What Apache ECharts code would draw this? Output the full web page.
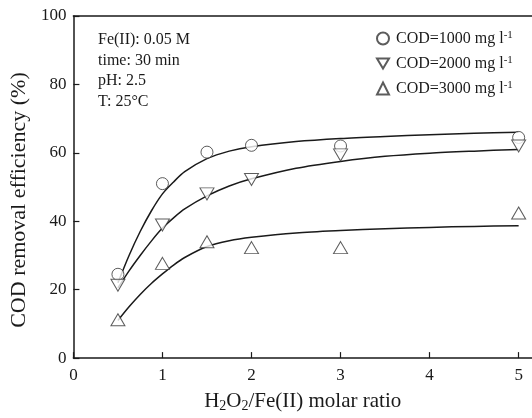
<!DOCTYPE html>
<html>
<head>
<meta charset="utf-8">
<script src="https://cdn.jsdelivr.net/npm/echarts@6/dist/echarts.min.js"></script>
<style>
  html, body { margin: 0; padding: 0; background: #fff; }
  #chart { width: 532px; height: 418px; }
</style>
</head>
<body>
<div id="chart"></div>
<script>
// Measured points: H2O2/Fe(II) molar ratio vs COD removal efficiency (%)
const ratio = [0.5, 1, 1.5, 2, 3, 5];
const cod1000 = [24.5, 51, 60.2, 62.2, 62, 64.5];
const cod2000 = [21.3, 38.9, 48, 52.2, 59.4, 62];
const cod3000 = [11.2, 27.7, 34, 32.3, 32.3, 42.4];

// Fitted trend curves
const fitX = [0.5, 0.625, 0.75, 0.875, 1, 1.125, 1.25, 1.5, 1.75, 2, 2.5, 3, 3.5, 4, 4.5, 5];
const fit1000 = [22, 30, 37, 43, 48, 51.5, 54.5, 58.3, 60.5, 61.8, 63.3, 64.2, 64.8, 65.3, 65.7, 66];
const fit2000 = [20.5, 25.5, 30, 34.2, 38, 41, 43.6, 47.4, 50.3, 52.4, 55.5, 57.5, 59, 59.9, 60.5, 61];
const fit3000 = [11, 15, 18.6, 21.8, 24.6, 27.2, 29.4, 32.6, 34.3, 35.3, 36.6, 37.3, 37.8, 38.2, 38.5, 38.7];

const seriesNames = ['COD=1000', 'COD=2000', 'COD=3000'];
const conditions = ['Fe(II): 0.05 M', 'time: 30 min', 'pH: 2.5', 'T: 25°C'];
const yTicks = [0, 20, 40, 60, 80, 100];

const FONT = 'Liberation Serif';
const INK = '#1a1a1a';
const downTri = 'path://M0,0 L12,0 L6,10 Z';

const pairs = (xs, ys) => xs.map((x, i) => [x, ys[i]]);

const chart = echarts.init(document.getElementById('chart'), null, { renderer: 'canvas' });

const markerStyle = { color: '#fff', borderColor: '#333', borderWidth: 1 };
const lineStyle = { color: INK, width: 1.5 };

chart.setOption({
  animation: false,
  backgroundColor: '#fff',
  textStyle: { fontFamily: FONT, color: INK },
  grid: { left: 73, right: 0, top: 16, bottom: 55 },
  legend: {
    orient: 'vertical',
    left: 371,
    top: 25,
    itemWidth: 12,
    itemHeight: 12,
    itemGap: 8,
    data: seriesNames,
    formatter: name => '{t|' + name + ' mg l}{s|-1}',
    textStyle: {
      fontFamily: FONT,
      color: INK,
      padding: [0, 0, 0, 2],
      rich: {
        t: { fontFamily: FONT, fontSize: 16, color: INK, lineHeight: 17 },
        s: { fontFamily: FONT, fontSize: 11, color: INK, verticalAlign: 'top', lineHeight: 17, padding: [0, 0, 6, 0] }
      }
    }
  },
  xAxis: [{
    type: 'value',
    min: 0,
    max: 5.15,
    interval: 1,
    name: '{n|H}{s|2}{n|O}{s|2}{n|/Fe(II) molar ratio}',
    nameLocation: 'middle',
    nameGap: 31,
    nameTextStyle: {
      rich: {
        n: { fontFamily: FONT, fontSize: 21, color: INK, lineHeight: 22 },
        s: { fontFamily: FONT, fontSize: 14, color: INK, lineHeight: 22, padding: [10, 0, 0, 0] }
      }
    },
    axisLine: { show: true, lineStyle: { color: INK, width: 1.5 } },
    axisTick: { inside: true, length: 6, lineStyle: { color: INK, width: 1.2 } },
    axisLabel: {
      fontFamily: FONT, fontSize: 17, color: INK, margin: 9,
      showMaxLabel: false,
      formatter: v => (Number.isInteger(v) ? String(v) : '')
    },
    splitLine: { show: false }
  }, {
    type: 'value',
    position: 'top',
    min: 0,
    max: 5.15,
    axisLine: { show: true, onZero: false, lineStyle: { color: INK, width: 1.5 } },
    axisTick: { show: false },
    axisLabel: { show: false },
    splitLine: { show: false }
  }],
  yAxis: {
    type: 'value',
    min: yTicks[0],
    max: yTicks[yTicks.length - 1],
    interval: 20,
    name: 'COD removal efficiency (%)',
    nameLocation: 'middle',
    nameGap: 42,
    nameTextStyle: { fontFamily: FONT, fontSize: 22, color: INK, padding: [0, 26, 0, 0] },
    axisLine: { show: true, lineStyle: { color: INK, width: 1.5 } },
    axisTick: { inside: true, length: 6, lineStyle: { color: INK, width: 1.2 } },
    axisLabel: { fontFamily: FONT, fontSize: 17, color: INK, margin: 7 },
    splitLine: { show: false }
  },
  graphic: conditions.map((txt, i) => ({
    type: 'text',
    left: 98,
    top: 32 + i * 20.5,
    style: { text: txt, fontFamily: FONT, fontSize: 16, fill: INK }
  })),
  series: [
    { type: 'line', data: pairs(fitX, fit1000), smooth: 0.3, showSymbol: false, lineStyle, silent: true, z: 1 },
    { type: 'line', data: pairs(fitX, fit2000), smooth: 0.3, showSymbol: false, lineStyle, silent: true, z: 1 },
    { type: 'line', data: pairs(fitX, fit3000), smooth: 0.3, showSymbol: false, lineStyle, silent: true, z: 1 },
    { name: seriesNames[0], type: 'scatter', data: pairs(ratio, cod1000), symbol: 'circle', symbolSize: 12, itemStyle: markerStyle, z: 3 },
    { name: seriesNames[1], type: 'scatter', data: pairs(ratio, cod2000), symbol: downTri, symbolSize: [14, 12], itemStyle: markerStyle, z: 3 },
    { name: seriesNames[2], type: 'scatter', data: pairs(ratio, cod3000), symbol: 'triangle', symbolSize: [14, 12], itemStyle: markerStyle, z: 3 }
  ]
});
</script>
</body>
</html>
